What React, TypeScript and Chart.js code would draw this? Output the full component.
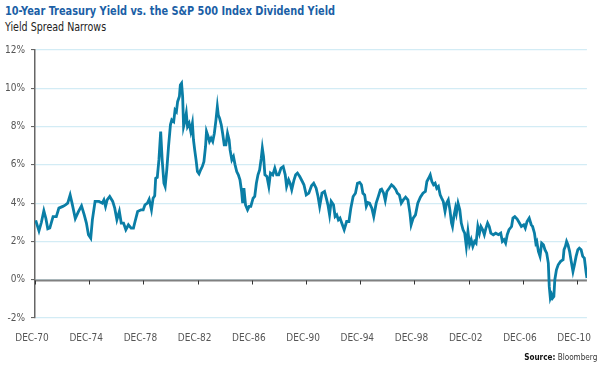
import React, { useEffect, useRef } from 'react';
import { Chart, registerables } from 'chart.js';

Chart.register(...registerables);

const years = [
  1970.97, 1971.21, 1971.39, 1971.57, 1971.72, 1971.86, 1972.01, 1972.25, 1972.49, 1972.68,
  1972.97, 1973.17, 1973.33, 1973.51, 1973.65, 1973.89, 1974.13, 1974.35, 1974.55, 1974.71,
  1974.86, 1975.03, 1975.15, 1975.35, 1975.64, 1975.88, 1976.0, 1976.12, 1976.24, 1976.43,
  1976.65, 1976.8, 1976.96, 1977.14, 1977.28, 1977.45, 1977.62, 1977.81, 1978.01, 1978.18,
  1978.3, 1978.49, 1978.74, 1978.9, 1979.03, 1979.21, 1979.34, 1979.51, 1979.63, 1979.75,
  1979.82, 1979.94, 1980.06, 1980.19, 1980.3, 1980.43, 1980.52, 1980.64, 1980.77, 1980.91,
  1981.01, 1981.15, 1981.25, 1981.35, 1981.44, 1981.57, 1981.64, 1981.73, 1981.81, 1981.88,
  1981.97, 1982.08, 1982.17, 1982.29, 1982.41, 1982.53, 1982.61, 1982.7, 1982.8, 1982.9,
  1983.02, 1983.14, 1983.26, 1983.38, 1983.5, 1983.57, 1983.69, 1983.79, 1983.91, 1984.03,
  1984.15, 1984.27, 1984.37, 1984.44, 1984.54, 1984.66, 1984.76, 1984.88, 1985.0, 1985.12,
  1985.24, 1985.31, 1985.44, 1985.56, 1985.68, 1985.8, 1985.92, 1986.04, 1986.16, 1986.24,
  1986.33, 1986.45, 1986.6, 1986.72, 1986.84, 1987.01, 1987.13, 1987.25, 1987.37, 1987.49,
  1987.61, 1987.69, 1987.78, 1987.88, 1988.03, 1988.17, 1988.29, 1988.46, 1988.61, 1988.75,
  1988.9, 1989.07, 1989.23, 1989.38, 1989.48, 1989.63, 1989.74, 1989.86, 1990.03,
  1990.15, 1990.28, 1990.45, 1990.64, 1990.76, 1990.93, 1991.12, 1991.32, 1991.48, 1991.66,
  1991.8, 1991.92, 1992.09, 1992.28, 1992.41, 1992.53, 1992.65, 1992.77, 1992.94, 1993.06,
  1993.18, 1993.3, 1993.42, 1993.55, 1993.73, 1993.91, 1994.08, 1994.22, 1994.39, 1994.56,
  1994.71, 1994.87, 1995.0, 1995.11, 1995.24, 1995.36, 1995.48, 1995.6, 1995.77, 1995.91,
  1996.09, 1996.25, 1996.4, 1996.49, 1996.64, 1996.76, 1996.88, 1997.05, 1997.22, 1997.36,
  1997.54, 1997.65, 1997.8, 1997.94, 1998.09, 1998.26, 1998.43, 1998.58, 1998.67, 1998.82,
  1998.99, 1999.16, 1999.35, 1999.54, 1999.72, 1999.83, 1999.96, 2000.08, 2000.2, 2000.32,
  2000.44, 2000.56, 2000.68, 2000.81, 2000.92, 2001.04, 2001.17, 2001.28, 2001.41, 2001.53,
  2001.65, 2001.72, 2001.82, 2001.94, 2002.01, 2002.13, 2002.26, 2002.37, 2002.5, 2002.62,
  2002.74, 2002.86, 2002.98, 2003.1, 2003.22, 2003.35, 2003.46, 2003.59, 2003.71, 2003.82,
  2003.95, 2004.07, 2004.19, 2004.31, 2004.43, 2004.55, 2004.73, 2004.91, 2005.11, 2005.28,
  2005.4, 2005.52, 2005.64, 2005.76, 2005.89, 2006.08, 2006.18, 2006.32, 2006.49, 2006.66,
  2006.8, 2006.98, 2007.09, 2007.22, 2007.38, 2007.53, 2007.63, 2007.77, 2007.87, 2007.94,
  2008.06, 2008.18, 2008.3, 2008.43, 2008.54, 2008.67, 2008.79, 2008.86, 2008.94, 2009.03,
  2009.1, 2009.2, 2009.27, 2009.39, 2009.52, 2009.7, 2009.88, 2009.95, 2010.05, 2010.14,
  2010.24, 2010.36, 2010.48, 2010.61, 2010.72, 2010.84, 2010.97, 2011.08, 2011.21, 2011.33,
  2011.45, 2011.57, 2011.64,
];

const yieldSpread = [
  3.1, 2.55, 3.0, 3.6, 3.2, 2.66, 2.7, 3.3, 3.3, 3.74,
  3.83, 3.91, 4.0, 4.43, 4.0, 3.2, 3.57, 3.86, 3.39, 2.96,
  2.35, 2.17, 3.13, 4.09, 4.09, 4.0, 4.17, 3.83, 4.17, 4.35,
  4.09, 3.74, 3.13, 3.57, 2.96, 2.96, 2.61, 2.87, 2.7, 2.7,
  3.04, 3.56, 3.65, 3.65, 3.91, 4.0, 4.2, 3.65, 4.26, 4.38,
  5.3, 5.35, 6.26, 7.74, 6.26, 5.04, 4.87, 5.74, 6.96, 8.09,
  8.35, 8.26, 8.87, 8.78, 9.3, 9.57, 10.17, 10.26, 9.57, 8.0,
  8.26, 8.7, 8.0, 8.17, 7.74, 8.17, 7.3, 6.78, 6.26, 5.65,
  5.53, 5.74, 5.91, 6.17, 6.96, 7.74, 7.48, 7.22, 7.39, 7.22,
  7.65, 8.35, 9.04, 8.61, 8.43, 8.09, 7.65, 7.04, 7.04, 7.65,
  7.3, 6.78, 6.26, 6.43, 6.0, 5.65, 5.48, 5.22, 4.61, 4.0,
  4.78, 3.91, 3.65, 3.83, 3.83, 4.26, 4.35, 5.04, 5.48, 5.74,
  6.35, 6.87, 6.43, 5.48, 5.39, 4.87, 5.57, 5.48, 5.83, 5.48,
  5.48, 5.83, 5.91, 5.48, 4.87, 5.22, 5.04, 4.7, 5.22,
  5.48, 5.57, 5.39, 5.13, 4.96, 4.43, 4.52, 4.91, 5.04, 4.78,
  4.35, 3.83, 4.52, 4.61, 4.26, 3.91, 3.39, 4.09, 3.91, 3.3,
  3.39, 3.13, 3.22, 2.96, 2.61, 3.04, 3.04, 3.74, 4.35, 4.52,
  5.04, 5.08, 4.96, 4.52, 4.43, 3.83, 4.03, 4.0, 3.74, 3.3,
  4.0, 4.35, 4.7, 4.73, 4.52, 4.14, 4.61, 4.78, 4.96, 4.87,
  4.7, 4.52, 4.43, 4.0, 4.17, 4.31, 4.17, 3.48, 2.87, 3.22,
  3.39, 4.0, 4.31, 4.52, 4.61, 5.13, 5.3, 5.48, 5.13, 4.96,
  5.04, 4.78, 4.87, 4.43, 4.26, 4.09, 3.57, 4.0, 4.17, 3.65,
  2.96, 2.78, 3.3, 3.74, 3.48, 4.0, 3.65, 2.96, 2.61, 2.43,
  1.74, 2.52, 1.83, 2.09, 1.74, 2.0, 1.91, 2.78, 2.43, 2.78,
  2.61, 2.35, 2.7, 2.96, 2.78, 2.43, 2.35, 2.43, 2.35, 2.43,
  2.0, 2.09, 1.91, 2.35, 2.61, 2.78, 3.22, 3.3, 3.17, 2.96,
  2.78, 2.87, 2.7, 3.04, 3.22, 2.87, 2.78, 2.43, 1.91, 2.0,
  1.48, 1.22, 1.91, 1.83, 1.57, 1.39, 0.87, -0.35, -0.96, -0.78,
  -0.96, -0.87, 0.0, 0.52, 0.78, 0.96, 1.04, 1.57, 1.74, 2.0,
  1.83, 1.48, 0.96, 0.43, 0.78, 1.22, 1.57, 1.65, 1.57, 1.22,
  1.13, 0.43, 0.09,
];

const xTickYears = [1970.917, 1974.917, 1978.917, 1982.917, 1986.917, 1990.917, 1994.917, 1998.917, 2002.917, 2006.917, 2010.917];
const xTickLabels = ['DEC-70', 'DEC-74', 'DEC-78', 'DEC-82', 'DEC-86', 'DEC-90', 'DEC-94', 'DEC-98', 'DEC-02', 'DEC-06', 'DEC-10'];
const yTickValues = [-2, 0, 2, 4, 6, 8, 10, 12];

const X_MIN = 1970.917;
const X_MAX = 2011.64;

const FONT = '"DejaVu Sans Condensed", "Liberation Sans Narrow", "Roboto", sans-serif';

export default function App() {
  const canvasRef = useRef<HTMLCanvasElement | null>(null);

  useEffect(() => {
    document.body.style.margin = '0';
    const canvas = canvasRef.current;
    if (!canvas) return;

    const zeroLine = {
      id: 'zeroLine',
      beforeDatasetsDraw(chart: any) {
        const { ctx, chartArea, scales } = chart;
        const y = Math.round(scales.y.getPixelForValue(0)) + 0.5;
        ctx.save();
        ctx.strokeStyle = '#808080';
        ctx.lineWidth = 2;
        ctx.beginPath();
        ctx.moveTo(chartArea.left, y);
        ctx.lineTo(chartArea.right, y);
        ctx.stroke();
        ctx.strokeStyle = '#333333';
        ctx.lineWidth = 1;
        xTickYears.forEach((v) => {
          const x = Math.round(scales.x.getPixelForValue(v)) + 0.5;
          ctx.beginPath();
          ctx.moveTo(x, y);
          ctx.lineTo(x, y + 4);
          ctx.stroke();
        });
        ctx.restore();
      },
    };

    const chart = new Chart(canvas, {
      type: 'line',
      data: {
        datasets: [
          {
            data: years.map((yr, i) => ({ x: yr, y: yieldSpread[i] })),
            borderColor: '#0a7ea6',
            borderWidth: 2.8,
            pointRadius: 0,
            tension: 0,
            fill: false,
          },
        ],
      },
      options: {
        animation: false,
        responsive: true,
        maintainAspectRatio: false,
        layout: { padding: { top: 50, right: 4, left: 0, bottom: 0 } },
        plugins: {
          legend: { display: false },
          tooltip: { enabled: false },
          title: { display: false },
        },
        scales: {
          x: {
            type: 'linear',
            min: X_MIN,
            max: X_MAX,
            grid: { display: false },
            border: { display: false },
            afterBuildTicks: (scale: any) => {
              scale.ticks = xTickYears.map((v) => ({ value: v }));
            },
            afterFit: (scale: any) => {
              scale.height = 50;
            },
            ticks: {
              autoSkip: false,
              maxRotation: 0,
              padding: 6,
              labelOffset: -3,
              color: '#555555',
              font: { family: FONT, size: 10 },
              callback: (_v: any, i: number) => xTickLabels[i],
            },
          },
          y: {
            min: -2,
            max: 12,
            afterBuildTicks: (scale: any) => {
              scale.ticks = yTickValues.map((v) => ({ value: v }));
            },
            afterFit: (scale: any) => {
              scale.width = 35;
            },
            grid: {
              color: '#d3ecf5',
              lineWidth: 1.2,
              tickColor: '#555555',
              tickLength: 4,
              tickWidth: 1,
            },
            border: { display: true, color: '#666666', width: 1.5 },
            ticks: {
              padding: 6,
              color: '#555555',
              font: { family: FONT, size: 10 },
              callback: (v: any) => `${v}%`,
            },
          },
        },
      },
      plugins: [zeroLine],
    });

    return () => chart.destroy();
  }, []);

  return (
    <div style={{ position: 'fixed', left: 0, top: 0, width: 600, height: 368, background: '#ffffff' }}>
      <div
        style={{
          position: 'absolute',
          left: 5,
          top: 3,
          fontFamily: FONT,
          fontWeight: 'bold',
          fontSize: 12.5,
          color: '#1b5fa6',
          whiteSpace: 'nowrap',
          lineHeight: '15px',
          transform: 'scaleX(0.87)',
          transformOrigin: 'left top',
        }}
      >
        10-Year Treasury Yield vs. the S&amp;P 500 Index Dividend Yield
      </div>
      <div
        style={{
          position: 'absolute',
          left: 5,
          top: 20,
          fontFamily: FONT,
          fontSize: 11.5,
          color: '#222222',
          whiteSpace: 'nowrap',
          lineHeight: '14px',
          transform: 'scaleX(0.92)',
          transformOrigin: 'left top',
        }}
      >
        Yield Spread Narrows
      </div>
      <canvas ref={canvasRef} style={{ position: 'absolute', left: 0, top: 0, width: 600, height: 368 }} />
      <div
        style={{
          position: 'absolute',
          right: 3,
          top: 352,
          fontFamily: FONT,
          fontSize: 9,
          color: '#333333',
          whiteSpace: 'nowrap',
          lineHeight: '11px',
          transform: 'scaleX(0.9)',
          transformOrigin: 'right top',
        }}
      >
        <b style={{ color: '#111111' }}>Source:</b> Bloomberg
      </div>
    </div>
  );
}
